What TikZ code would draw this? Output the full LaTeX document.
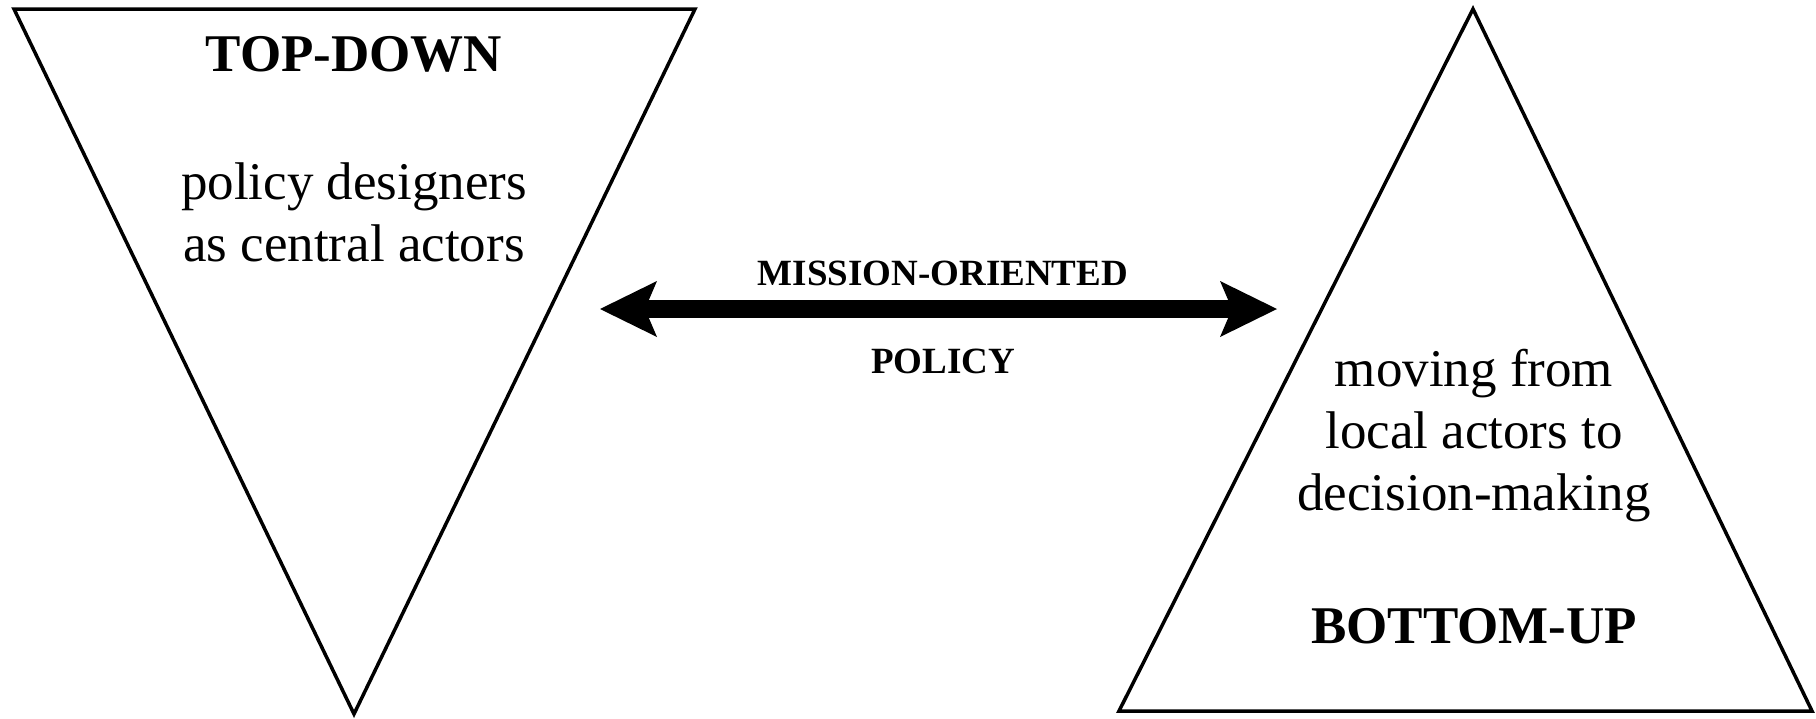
\documentclass[tikz,border=0pt]{standalone}
\usepackage{fontspec}
\setmainfont{Liberation Serif}
\usetikzlibrary{arrows.meta,positioning}

\begin{document}
\begin{tikzpicture}[x=1pt,y=1pt]
	\tikzset{tri/.style={line width=3.5pt}}
	\tikzset{heading/.style={font=\fontsize{53}{62}\selectfont\bfseries,anchor=base,inner sep=0pt}}
	\tikzset{body/.style={font=\fontsize{53}{62}\selectfont,align=center,anchor=base,inner sep=0pt}}
	\tikzset{arrowlabel/.style={font=\fontsize{37}{44}\selectfont\bfseries,anchor=base,inner sep=0pt}}
	\tikzset{bothway/.style={line width=18pt,{Stealth[length=57pt,width=56pt,inset=12pt,line width=0pt]}-{Stealth[length=57pt,width=56pt,inset=12pt,line width=0pt]}}}
	\useasboundingbox (0,0) rectangle (1816,-718);
	\coordinate (tdleft) at (14,-9);
	\coordinate (tdright) at (695,-9);
	\coordinate (tdtip) at (354,-714);
	\coordinate (buapex) at (1473,-9);
	\coordinate (buleft) at (1119,-711);
	\coordinate (buright) at (1812,-711);
	\coordinate (arrowL) at (600,-309);
	\coordinate (arrowR) at (1277,-309);
	\draw[tri] (tdleft) -- (tdright) -- (tdtip) -- cycle;
	\draw[tri] (buapex) -- (buright) -- (buleft) -- cycle;
	\draw[bothway] (arrowL) -- (arrowR);
	\node[heading] (topdown) at (354,-71) {TOP-DOWN};
	\node[body] (central) at (354,-261) {policy designers\\as central actors};
	\node[arrowlabel] (mission) at (943,-285) {MISSION-ORIENTED};
	\node[arrowlabel] (policy) at (943,-373) {POLICY};
	\node[body] (local) at (1474,-510) {moving from\\local actors to\\decision-making};
	\node[heading] (bottomup) at (1474,-643) {BOTTOM-UP};
\end{tikzpicture}
\end{document}
